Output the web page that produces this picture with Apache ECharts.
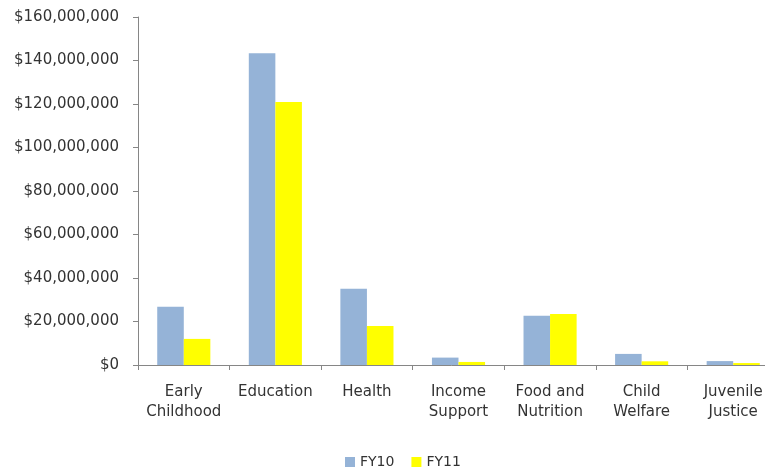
<!DOCTYPE html>
<html>
<head>
<meta charset="utf-8">
<script src="https://cdn.jsdelivr.net/npm/echarts@6/dist/echarts.min.js"></script>
<style>html,body{margin:0;padding:0;background:#fff}#c{width:765px;height:470px}</style>
</head>
<body>
<div id="c"></div>
<script>
const categories = ['Early\nChildhood', 'Education', 'Health', 'Income\nSupport', 'Food and\nNutrition', 'Child\nWelfare', 'Juvenile\nJustice'];
const fy10 = [26800000, 143300000, 35100000, 3400000, 22700000, 5100000, 1800000];
const fy11 = [12000000, 120900000, 17900000, 1400000, 23400000, 1700000, 900000];
const seriesNames = ['FY10', 'FY11'];

const chart = echarts.init(document.getElementById('c'), null, {renderer: 'canvas'});
const font = 'DejaVu Sans';
chart.setOption({
  animation: false,
  textStyle: {fontFamily: font},
  legend: {
    data: seriesNames,
    top: 450,
    left: 340,
    itemWidth: 10, itemHeight: 10, itemGap: 17,
    icon: 'rect',
    textStyle: {fontSize: 14, color: '#333', fontFamily: font}
  },
  grid: {left: 138, top: 17, bottom: 105, right: -14, containLabel: false, outerBoundsMode: 'none'},
  xAxis: {
    type: 'category',
    data: categories,
    axisLine: {lineStyle: {color: '#868686'}},
    axisTick: {show: true, length: 5, lineStyle: {color: '#868686'}},
    axisLabel: {color: '#333', fontSize: 15, lineHeight: 20, margin: 17, interval: 0, fontFamily: font}
  },
  yAxis: {
    type: 'value',
    min: 0, max: 160000000, interval: 20000000,
    splitLine: {show: false},
    axisLine: {show: true, lineStyle: {color: '#868686'}},
    axisTick: {show: true, length: 5, lineStyle: {color: '#868686'}},
    axisLabel: {
      color: '#333', fontSize: 15, margin: 19, fontFamily: font,
      formatter: v => '$' + v.toLocaleString('en-US')
    }
  },
  series: [
    {name: seriesNames[0], type: 'bar', data: fy10, barGap: '0%', barCategoryGap: '42%', itemStyle: {color: '#95B3D7'}},
    {name: seriesNames[1], type: 'bar', data: fy11, barGap: '0%', barCategoryGap: '42%', itemStyle: {color: '#FFFF00'}}
  ]
});
</script>
</body>
</html>
